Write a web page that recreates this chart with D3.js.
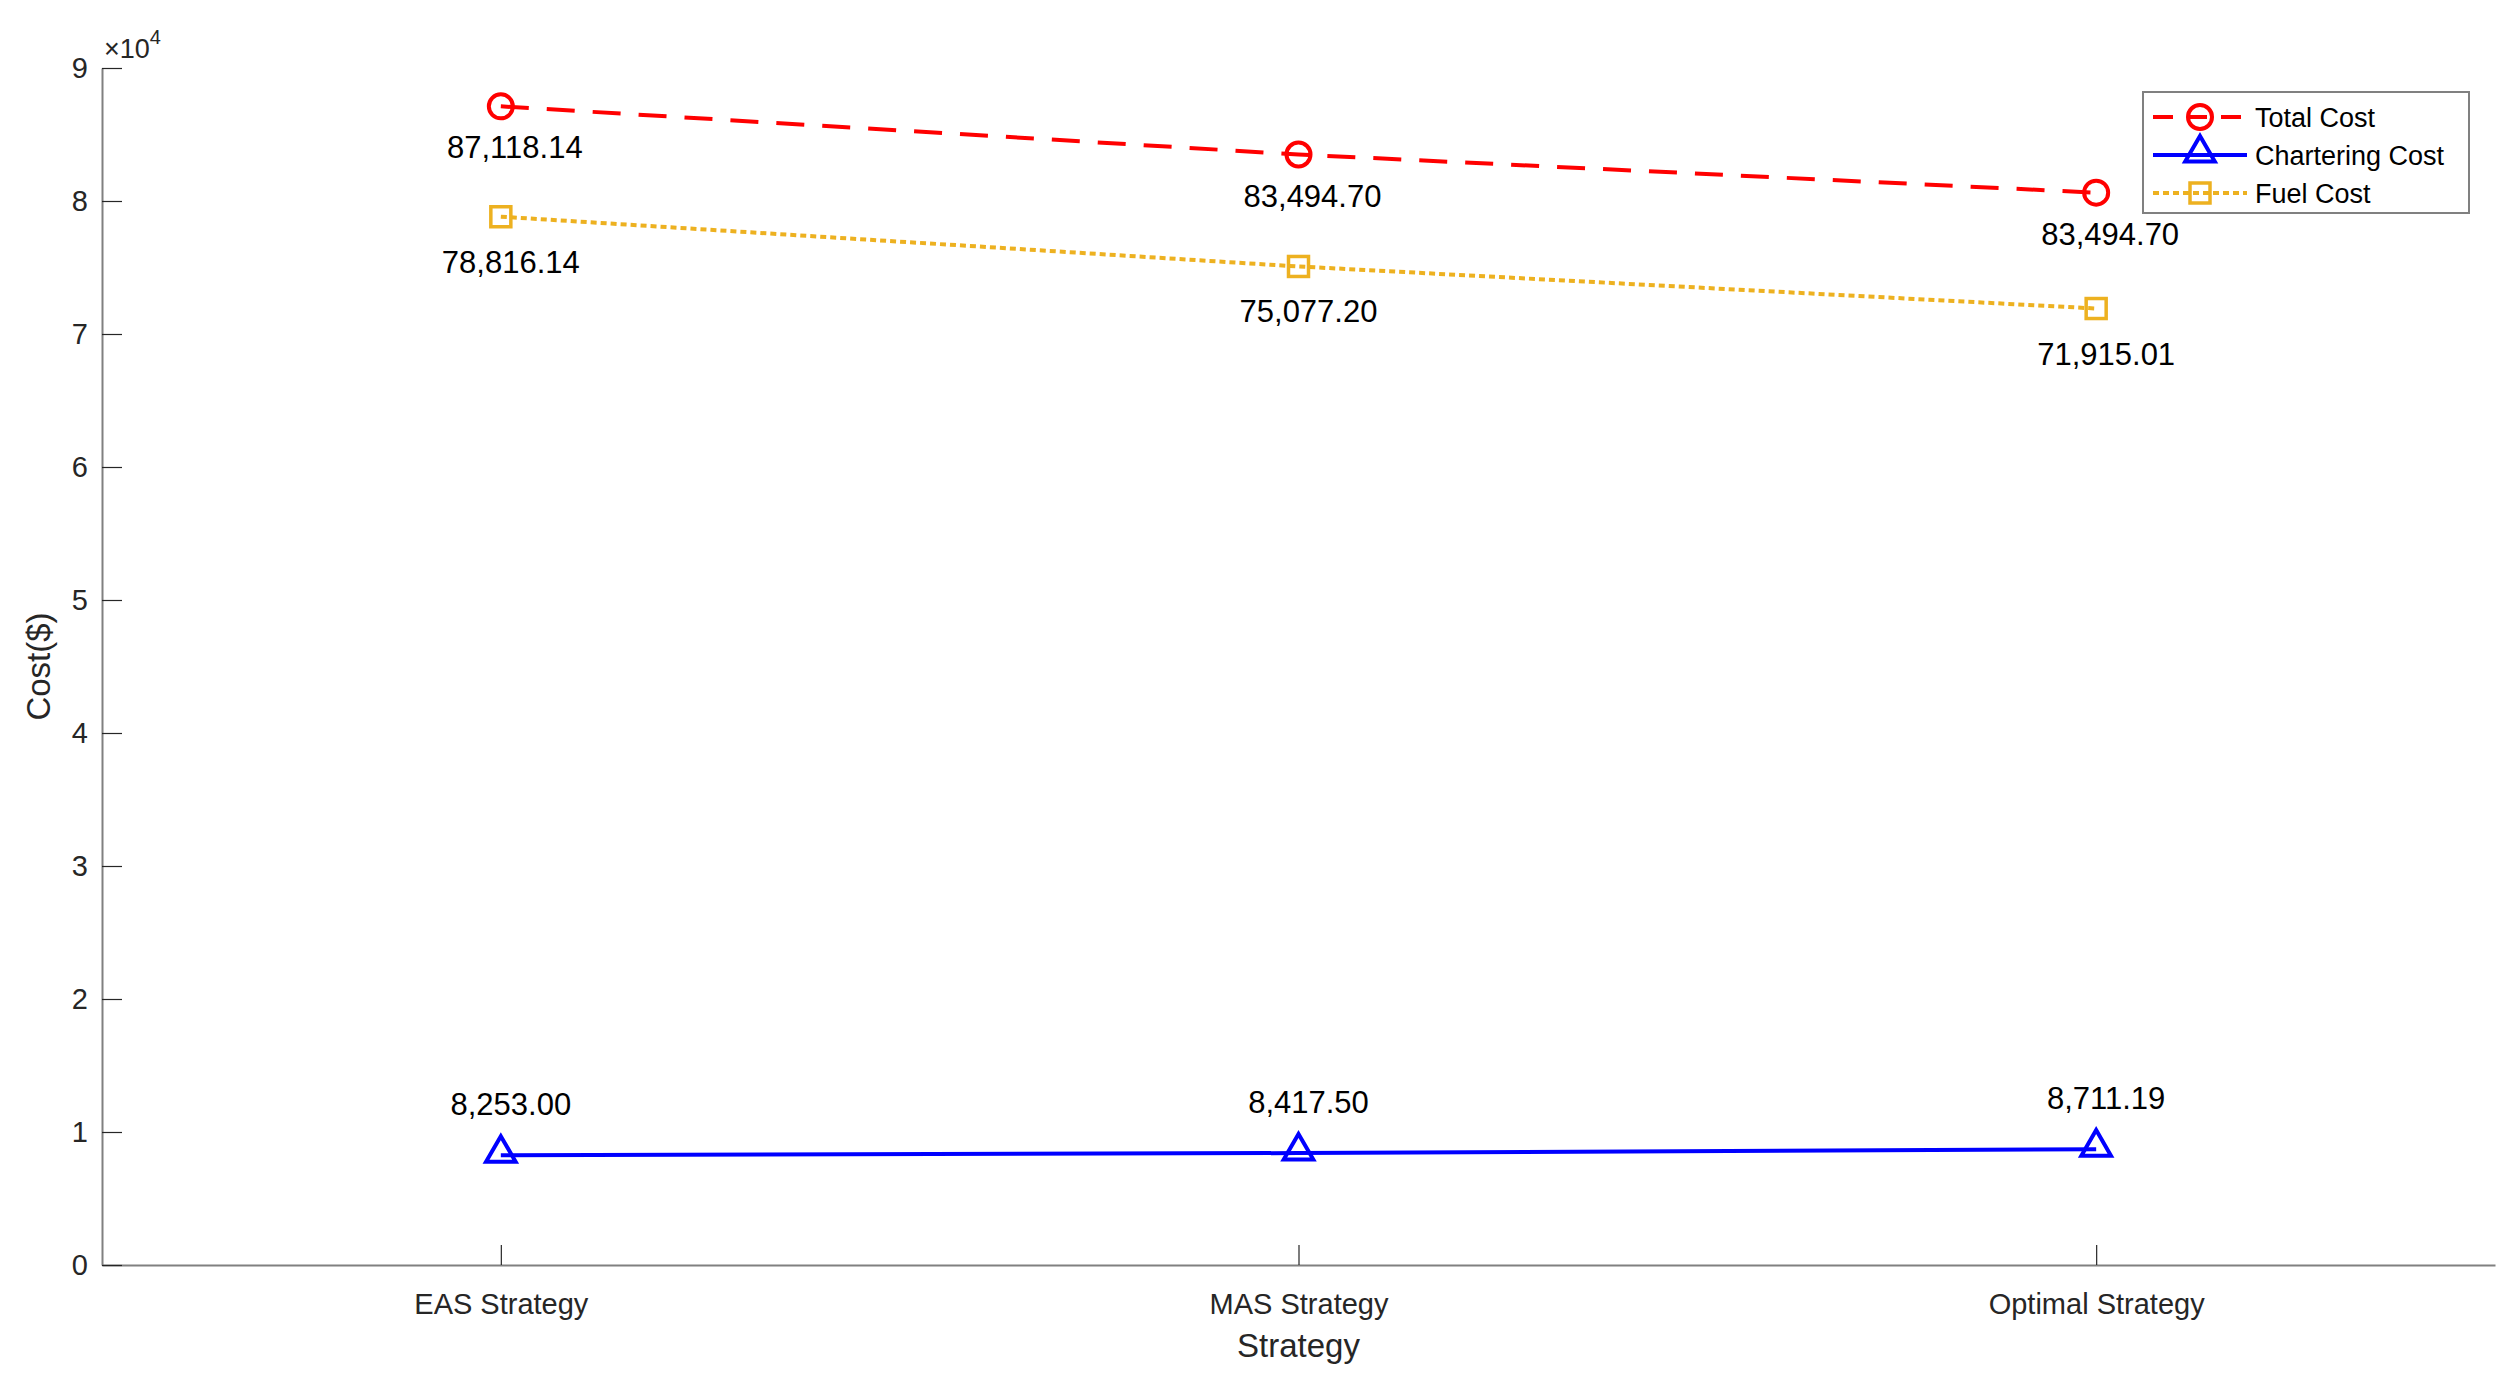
<!DOCTYPE html>
<html>
<head>
<meta charset="UTF-8">
<style>
  body { margin: 0; background: #fff; }
  text { font-family: "Liberation Sans", Arial, sans-serif; }
</style>
</head>
<body>
<svg id="chart" width="2519" height="1380"></svg>
<script src="https://cdnjs.cloudflare.com/ajax/libs/d3/7.8.5/d3.min.js"></script>
<script>
const categories = ["EAS Strategy", "MAS Strategy", "Optimal Strategy"];
const totalCost = [87118.14, 83494.70, 80626.20];
const totalLabels = ["87,118.14", "83,494.70", "83,494.70"];
const charterCost = [8253.00, 8417.50, 8711.19];
const charterLabels = ["8,253.00", "8,417.50", "8,711.19"];
const fuelCost = [78816.14, 75077.20, 71915.01];
const fuelLabels = ["78,816.14", "75,077.20", "71,915.01"];
const yTicks = [0, 1, 2, 3, 4, 5, 6, 7, 8, 9];

const svg = d3.select("#chart");
const mLeft = 102, mRight = 2495, mTop = 68, mBottom = 1265;

const x = d3.scalePoint().domain(categories).range([mLeft, mRight]).padding(0.5);
const y = d3.scaleLinear().domain([0, 90000]).range([mBottom, mTop]);

// axes
const gx = svg.append("g").attr("transform", `translate(0,${mBottom})`)
  .call(d3.axisBottom(x).tickSize(-20).tickPadding(28).tickSizeOuter(0));
const gy = svg.append("g").attr("transform", `translate(${mLeft},0)`)
  .call(d3.axisLeft(y).tickValues(yTicks.map(d => d * 1e4)).tickFormat(d => d / 1e4)
    .tickSize(-20).tickPadding(14).tickSizeOuter(0));
[gx, gy].forEach(g => {
  g.select(".domain").attr("stroke", "#808080").attr("stroke-width", 2);
  g.selectAll(".tick line").attr("stroke", "#262626").attr("stroke-width", 1.2);
  g.selectAll(".tick text").attr("fill", "#262626").style("font-size", "29px")
    .style("font-family", "Liberation Sans, Arial, sans-serif");
});
svg.append("text").attr("x", mLeft + 2).attr("y", mTop - 10).attr("fill", "#262626")
  .style("font-size", "27px").html('×10<tspan dy="-14" font-size="20">4</tspan>');

svg.append("text").attr("x", (mLeft + mRight) / 2).attr("y", 1357).attr("text-anchor", "middle")
  .attr("fill", "#262626").style("font-size", "33px").text("Strategy");
svg.append("text").attr("transform", `translate(50,${(mTop + mBottom) / 2}) rotate(-90)`)
  .attr("text-anchor", "middle").attr("fill", "#262626").style("font-size", "33px").text("Cost($)");

const series = [
  { vals: totalCost, labels: totalLabels, color: "#ff0000", dash: "28,18", marker: "circle", dy: 52, dx: 14 },
  { vals: charterCost, labels: charterLabels, color: "#0000ff", dash: null, marker: "triangle", dy: -40, dx: 10 },
  { vals: fuelCost, labels: fuelLabels, color: "#edb120", dash: "6,4", marker: "square", dy: 56, dx: 10 }
];

function drawMarker(g, type, cx, cy, color) {
  if (type === "circle") {
    g.append("circle").attr("cx", cx).attr("cy", cy).attr("r", 12)
      .attr("fill", "none").attr("stroke", color).attr("stroke-width", 4);
  } else if (type === "triangle") {
    g.append("path").attr("d", d3.symbol(d3.symbolTriangle, 380)())
      .attr("transform", `translate(${cx},${cy - 2})`)
      .attr("fill", "none").attr("stroke", color).attr("stroke-width", 4);
  } else {
    g.append("rect").attr("x", cx - 10).attr("y", cy - 10).attr("width", 20).attr("height", 20)
      .attr("fill", "none").attr("stroke", color).attr("stroke-width", 3.5);
  }
}

const line = d3.line().x((d, i) => x(categories[i])).y(d => y(d));
series.forEach(s => {
  svg.append("path").datum(s.vals).attr("d", line).attr("fill", "none")
    .attr("stroke", s.color).attr("stroke-width", 4).attr("stroke-dasharray", s.dash);
  const g = svg.append("g");
  s.vals.forEach((v, i) => {
    drawMarker(g, s.marker, x(categories[i]), y(v), s.color);
    svg.append("text").attr("x", x(categories[i]) + s.dx).attr("y", y(v) + s.dy)
      .attr("text-anchor", "middle").attr("fill", "#000").style("font-size", "31px").text(s.labels[i]);
  });
});

// legend
const lg = svg.append("g").attr("transform", "translate(2143,92)");
lg.append("rect").attr("width", 326).attr("height", 121).attr("fill", "#fff")
  .attr("stroke", "#808080").attr("stroke-width", 2);
const legendNames = ["Total Cost", "Chartering Cost", "Fuel Cost"];
series.forEach((s, i) => {
  const yy = 25 + i * 38;
  lg.append("line").attr("x1", 10).attr("x2", 104).attr("y1", yy).attr("y2", yy)
    .attr("stroke", s.color).attr("stroke-width", 4)
    .attr("stroke-dasharray", s.dash ? (s.marker === "circle" ? "20,14" : "6,4") : null);
  drawMarker(lg, s.marker, 57, yy, s.color);
  lg.append("text").attr("x", 112).attr("y", yy + 10).attr("fill", "#000")
    .style("font-size", "27px").text(legendNames[i]);
});
</script>
</body>
</html>
